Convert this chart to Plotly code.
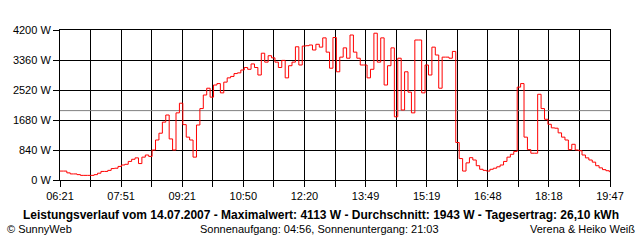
import numpy as np
import plotly.graph_objects as go

# ---- data ----
start_min = 6 * 60 + 21          # 06:21
step_min = 5
power_w = [
    250, 250, 200, 170, 170, 150, 130, 130, 130, 130,
    150, 190, 240, 240, 270, 320, 330, 380, 420, 440,
    520, 580, 620, 460, 640, 700, 660, 840, 1120, 1310,
    1620, 1820, 1150, 840, 1880, 2150, 1550, 1200, 1120, 640,
    1540, 2000, 2380, 2570, 2320, 2660, 2700, 2440, 2740, 2860,
    2900, 2980, 3000, 3080, 3150, 3100, 3250, 3150, 2940, 3550,
    3300, 3480, 3420, 3300, 3150, 3350, 2860, 3200, 3300, 3730,
    3220, 3750, 3760, 3780, 3640, 3800, 3720, 3980, 3580, 3130,
    3990, 3030, 3440, 3700, 3410, 4060, 3580, 3410, 3220, 3220,
    2860, 3100, 4110, 3300, 3980, 2660, 3200, 3700, 1770, 3410,
    1960, 3030, 2460, 1880, 3920, 3920, 2440, 3220, 2940, 3720,
    3500, 2570, 3440, 3440, 3410, 3600, 1050, 600, 250, 480,
    625, 560, 400, 300, 270, 250, 300, 330, 370, 420,
    520, 640, 720, 800, 2600, 2700, 1200, 850, 750, 750,
    2400, 2000, 1700, 1560, 1460, 1450, 1320, 1200, 1120, 850,
    1000, 840, 820, 700, 620, 560, 500, 400, 340, 290,
    260, 220,
]
avg_w = 1943
y_ticks = [0, 840, 1680, 2520, 3360, 4200]
x_labels = ["06:21", "07:51", "09:21", "10:50", "12:20",
            "13:49", "15:19", "16:48", "18:18", "19:47"]
title_text = ("Leistungsverlauf vom 14.07.2007 - Maximalwert: 4113 W - "
              "Durchschnitt: 1943 W - Tagesertrag: 26,10 kWh")
left_text = "© SunnyWeb"
mid_text = "Sonnenaufgang: 04:56, Sonnenuntergang: 21:03"
right_text = "Verena & Heiko Weiß"

# ---- derived ----
def to_min(s):
    h, m = s.split(":")
    return int(h) * 60 + int(m)

t = [start_min + step_min * i for i in range(len(power_w))]
x0, x1 = to_min(x_labels[0]), to_min(x_labels[-1])
n_int = 2 * (len(x_labels) - 1)
tickvals = list(np.linspace(x0, x1, n_int + 1))
ticktext = []
for k in range(n_int + 1):
    ticktext.append(x_labels[k // 2] if k % 2 == 0 else "")

FONT = "Liberation Sans"

fig = go.Figure()
fig.add_trace(go.Scatter(x=[x0, x1], y=[avg_w, avg_w], mode="lines",
                         line=dict(color="#808080", width=1),
                         hoverinfo="skip", showlegend=False))
fig.add_trace(go.Scatter(x=t, y=power_w, mode="lines",
                         line=dict(color="#ff0000", width=1, shape="hv"),
                         showlegend=False))

fig.update_layout(
    width=640, height=240,
    margin=dict(l=60, r=30, t=30, b=60),
    paper_bgcolor="white", plot_bgcolor="white",
    font=dict(family=FONT, size=11, color="black"),
    xaxis=dict(range=[x0, x1], tickvals=tickvals, ticktext=ticktext,
               showgrid=True, gridcolor="black", gridwidth=1,
               ticks="outside", ticklen=6, tickcolor="black", tickwidth=1,
               showline=True, linecolor="black", linewidth=1, mirror=True,
               zeroline=False, tickfont=dict(family=FONT, size=11)),
    yaxis=dict(range=[0, 4200], tickvals=y_ticks,
               ticktext=[f"{v} W" for v in y_ticks],
               showgrid=True, gridcolor="black", gridwidth=1,
               ticks="outside", ticklen=6, tickcolor="black", tickwidth=1,
               showline=True, linecolor="black", linewidth=1, mirror=True,
               zeroline=False, tickfont=dict(family=FONT, size=11)),
    annotations=[
        dict(text=f"<b>{title_text}</b>", xref="paper", yref="paper",
             x=0.4745, y=-0.233, xanchor="center", yanchor="middle",
             showarrow=False, font=dict(family=FONT, size=12)),
        dict(text=left_text, xref="paper", yref="paper",
             x=-0.1, y=-0.327, xanchor="left", yanchor="middle",
             showarrow=False, font=dict(family=FONT, size=11)),
        dict(text=mid_text, xref="paper", yref="paper",
             x=0.4727, y=-0.327, xanchor="center", yanchor="middle",
             showarrow=False, font=dict(family=FONT, size=11)),
        dict(text=right_text, xref="paper", yref="paper",
             x=1.049, y=-0.327, xanchor="right", yanchor="middle",
             showarrow=False, font=dict(family=FONT, size=11)),
    ],
)

fig.write_html("out.html")
